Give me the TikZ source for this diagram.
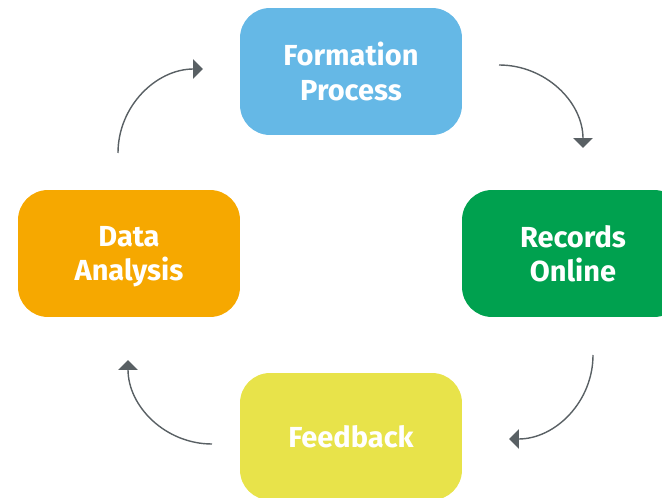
\documentclass[tikz,border=0pt]{standalone}
\usepackage{fontspec}
\setmainfont{Fira Sans}
\usetikzlibrary{
  positioning,
  arrows.meta
}
\definecolor{procBlue}{HTML}{65B8E6}
\definecolor{recGreen}{HTML}{00A14F}
\definecolor{anaOrange}{HTML}{F6A800}
\definecolor{fbYellow}{HTML}{E8E34A}
\definecolor{cycleGray}{HTML}{596064}
\tikzset{
  stage/.style   = {rectangle, rounded corners=0.6cm, draw=none,
                    minimum width=4.44cm, minimum height=2.54cm,
                    align=center, text=white, text depth=0pt,
                    font=\fontsize{16.5}{19.8}\selectfont\bfseries},
  cycle/.style   = {-{Triangle[length=5.6pt, width=11pt]}, line width=0.8pt,
                    draw=cycleGray}
}

\begin{document}
\begin{tikzpicture}[x=0.02cm, y=0.02cm]
\useasboundingbox (0,0) rectangle (662,497);

\node[stage, fill=procBlue]  (proc) at (351,425.5) {Formation\\Process};
\node[stage, fill=recGreen]  (rec)  at (573,243.5) {Records\\Online};
\node[stage, fill=fbYellow]  (fb)   at (351,60.5)  {Feedback};
\node[stage, fill=anaOrange] (ana)  at (129,243.5) {Data\\Analysis};

% free ends of the cycle arrows
\coordinate (procOut) at (499,432);
\coordinate (recIn)   at (583,349);
\coordinate (recOut)  at (593,142);
\coordinate (fbIn)    at (509,58);
\coordinate (fbOut)   at (212,53);
\coordinate (anaIn)   at (128,137);
\coordinate (anaOut)  at (118,344);
\coordinate (procIn)  at (203,428);

\draw[cycle] (procOut) to[out=0, in=90]   (recIn);
\draw[cycle] (recOut)  to[out=-90, in=0]  (fbIn);
\draw[cycle] (fbOut)   to[out=180, in=-90] (anaIn);
\draw[cycle] (anaOut)  to[out=90, in=180] (procIn);
\end{tikzpicture}
\end{document}
